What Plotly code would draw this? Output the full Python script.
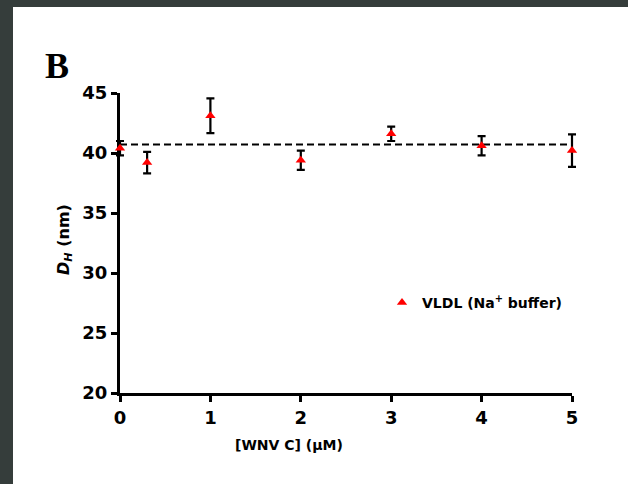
import plotly.graph_objects as go

# Data
conc = [0, 0.3, 1, 2, 3, 4, 5]
dh = [40.4, 39.2, 43.1, 39.4, 41.6, 40.6, 40.2]
dh_err = [0.6, 0.9, 1.45, 0.8, 0.6, 0.8, 1.35]
fit_x = [0, 5]
fit_y = [40.7, 40.7]
x_ticks = [0, 1, 2, 3, 4, 5]
y_ticks = [20, 25, 30, 35, 40, 45]
x_range = [0, 5]
y_range = [20, 45]

W, H = 628, 484
# visible axes box in pixels
AX0, AX1 = 120, 572
AY0, AY1 = 93, 393
PAD = 14  # extra room so error bars at edges are not clipped
L, R = AX0 - PAD, W - AX1 - PAD
T, B = AY0 - PAD, H - AY1 - PAD
pw, ph = W - L - R, H - T - B

def px(x):
    return (x - L) / pw

def py(y):
    return (H - B - y) / ph

xs = (x_range[1] - x_range[0]) / (AX1 - AX0)
ys = (y_range[1] - y_range[0]) / (AY1 - AY0)
x2_range = [x_range[0] - PAD * xs, x_range[1] + PAD * xs]
y2_range = [y_range[0] - PAD * ys, y_range[1] + PAD * ys]

font_family = "DejaVu Sans, Arial, sans-serif"
dark = "#353d3b"

fig = go.Figure()
fig.add_trace(go.Scatter(
    x=fit_x, y=fit_y, mode="lines", xaxis="x", yaxis="y",
    line=dict(color="black", width=2, dash="7px,4px"),
    showlegend=False, hoverinfo="skip",
))
fig.add_trace(go.Scatter(
    x=conc, y=dh, mode="markers", xaxis="x2", yaxis="y2",
    marker=dict(symbol="triangle-up", color="red", size=9),
    error_y=dict(type="data", array=dh_err, color="black", thickness=2.2, width=4),
    name="VLDL (Na<sup>+</sup> buffer)",
))

# dark frame strips (left and top)
fig.add_shape(type="rect", xref="paper", yref="paper",
              x0=px(-5), x1=px(13), y0=py(H + 5), y1=py(-5),
              fillcolor=dark, line=dict(width=0), layer="below")
fig.add_shape(type="rect", xref="paper", yref="paper",
              x0=px(-5), x1=px(W + 5), y0=py(7), y1=py(-5),
              fillcolor=dark, line=dict(width=0), layer="below")

fig.add_annotation(text="<b>B</b>", xref="paper", yref="paper",
                   x=px(43), y=py(66), xanchor="left", yanchor="middle",
                   showarrow=False,
                   font=dict(family="Liberation Serif, Times New Roman, serif", size=36, color="black"))
fig.add_annotation(text="<b><i>D</i><sub><i>H</i></sub> (nm)</b>", xref="paper", yref="paper",
                   x=px(64), y=py(240), xanchor="center", yanchor="middle",
                   textangle=-90, showarrow=False,
                   font=dict(family=font_family, size=16, color="black"))
fig.add_annotation(text="<b>[WNV C] (µM)</b>", xref="paper", yref="paper",
                   x=px(289), y=py(445), xanchor="center", yanchor="middle",
                   showarrow=False,
                   font=dict(family=font_family, size=14, color="black"))

axis_common = dict(ticks="outside", ticklen=6, tickwidth=2.5, tickcolor="black",
                   showline=True, linecolor="black", linewidth=3,
                   showgrid=False, zeroline=False, layer="below traces",
                   tickfont=dict(family=font_family, size=18, color="black", weight="bold"))

fig.update_layout(
    width=W, height=H,
    margin=dict(l=L, r=R, t=T, b=B),
    paper_bgcolor="white",
    plot_bgcolor="rgba(0,0,0,0)",
    showlegend=True,
    legend=dict(x=px(382), y=py(287), xanchor="left", yanchor="top",
                bgcolor="rgba(0,0,0,0)",
                font=dict(family=font_family, size=14, color="black", weight="bold")),
    xaxis=dict(range=x_range, tickvals=x_ticks, anchor="y",
               domain=[px(AX0), px(AX1)], **axis_common),
    yaxis=dict(range=y_range, tickvals=y_ticks, anchor="x",
               domain=[py(AY1), py(AY0)], **axis_common),
    xaxis2=dict(range=x2_range, domain=[0, 1], anchor="y2", visible=False),
    yaxis2=dict(range=y2_range, domain=[0, 1], anchor="x2", visible=False),
)

fig.write_html(
    "out.html", config={"displayModeBar": False},
    post_script=("document.documentElement.style.margin='0';"
                 "document.documentElement.style.overflow='hidden';"
                 "document.documentElement.style.background='white';"
                 "document.body.style.margin='0';"
                 "document.body.style.overflow='hidden';"
                 "document.body.style.background='white';"),
)
